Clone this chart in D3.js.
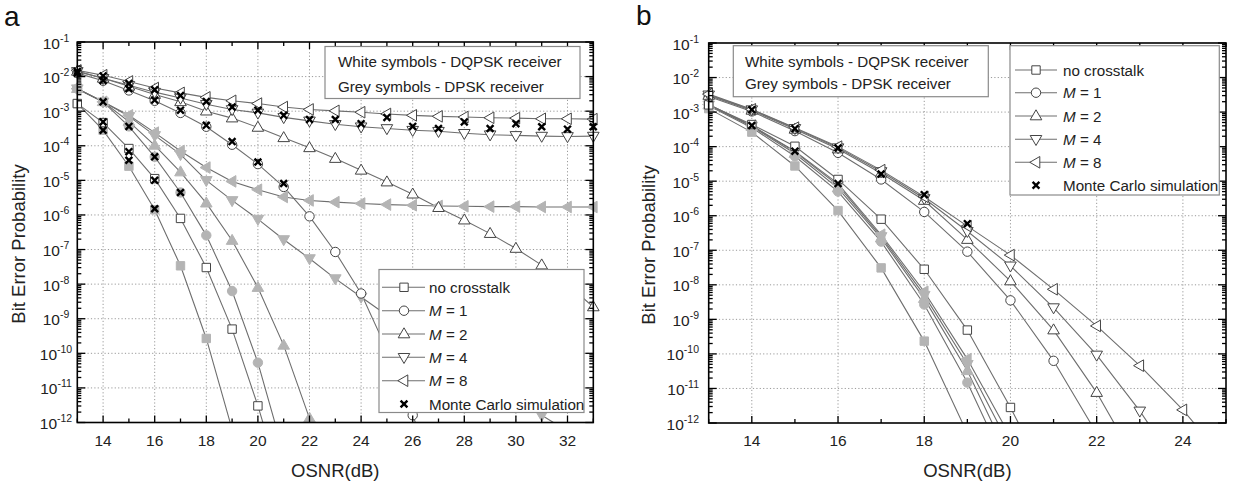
<!DOCTYPE html>
<html><head><meta charset="utf-8">
<script src="https://cdn.jsdelivr.net/npm/d3@7"></script>
<style>
body{margin:0;background:#fff;}
svg{display:block;font-family:"Liberation Sans",Arial,Helvetica,sans-serif;}
</style>
</head><body>
<svg id="c" width="1238" height="484"></svg>
<script>
// ---------------- DATA (values are log10 of bit error probability) ----------------
const osnrA = [13,14,15,16,17,18,19,20,21,22,23,24,25,26,27,28,29,30,31,32,33];
const osnrB = [13,14,15,16,17,18,19,20,21,22,23,24,25];

// Panel a - DQPSK receiver (white symbols)
const a_dqpsk_noXT = [-2.78,-3.33,-4.08,-4.95,-6.10,-7.52,-9.30,-11.52,-14.0];
const a_dqpsk_M1   = [-1.90,-2.12,-2.40,-2.70,-3.05,-3.45,-3.97,-4.53,-5.19,-6.04,-7.07,-8.27,-9.90,-11.79,-13.8];
const a_dqpsk_M2   = [-1.85,-2.05,-2.28,-2.52,-2.73,-3.00,-3.20,-3.47,-3.77,-4.06,-4.37,-4.71,-5.05,-5.40,-5.79,-6.15,-6.54,-6.97,-7.45,-8.00,-8.66];
const a_dqpsk_M4   = [-1.85,-2.05,-2.25,-2.45,-2.62,-2.80,-2.95,-3.05,-3.18,-3.28,-3.38,-3.45,-3.50,-3.55,-3.58,-3.64,-3.68,-3.70,-3.72,-3.73,-3.72];
const a_dqpsk_M8   = [-1.82,-1.96,-2.14,-2.33,-2.47,-2.60,-2.70,-2.78,-2.88,-2.95,-2.99,-3.03,-3.08,-3.12,-3.15,-3.17,-3.19,-3.20,-3.22,-3.22,-3.23];
// Panel a - DPSK receiver (grey symbols)
const a_dpsk_noXT  = [-2.78,-3.55,-4.59,-5.85,-7.47,-9.57,-12.2];
const a_dpsk_M1    = [-2.35,-2.73,-3.44,-4.32,-5.35,-6.59,-8.20,-10.27,-12.9];
const a_dpsk_M2    = [-2.35,-2.73,-3.30,-3.99,-4.76,-5.66,-6.74,-8.10,-9.77,-11.88];
const a_dpsk_M4    = [-2.35,-2.73,-3.15,-3.70,-4.25,-5.00,-5.58,-6.12,-6.71,-7.26,-7.84,-8.37,-8.90,-9.40,-9.90,-10.40,-10.85,-11.30,-11.79,-12.25];
const a_dpsk_M8    = [-2.35,-2.73,-3.12,-3.62,-4.15,-4.63,-5.03,-5.27,-5.48,-5.58,-5.63,-5.67,-5.70,-5.72,-5.74,-5.75,-5.76,-5.76,-5.77,-5.77,-5.77];
// Panel a - Monte Carlo simulation points
const a_mc_upper   = [-1.85,-1.98,-2.20,-2.38,-2.55,-2.72,-2.88,-2.97,-3.12,-3.24,-3.24,-3.36,-3.18,-3.44,-3.50,-3.31,-3.50,-3.36,-3.45,-3.52,-3.45];
const a_mc_M1      = [-1.90,-2.11,-2.35,-2.68,-2.97,-3.41,-3.88,-4.47,-5.09];
const a_mc_dpskM1  = [null,-2.73,-3.44,-4.32,-5.35];
const a_mc_noXT_w  = [null,-3.31,-4.17,-5.00];
const a_mc_noXT_g  = [null,-3.55,-4.42,-5.82];

// Panel b - DQPSK receiver (white symbols)
const b_dqpsk_noXT = [-2.79,-3.36,-3.99,-4.95,-6.10,-7.55,-9.31,-11.55,-14.0];
const b_dqpsk_M1   = [-2.55,-2.98,-3.55,-4.18,-4.95,-5.89,-7.04,-8.45,-10.20,-12.3];
const b_dqpsk_M2   = [-2.52,-2.95,-3.50,-4.07,-4.77,-5.56,-6.69,-7.89,-9.31,-11.12,-13.3];
const b_dqpsk_M4   = [-2.50,-2.93,-3.47,-4.03,-4.72,-5.50,-6.45,-7.45,-8.66,-10.03,-11.65,-13.5];
const b_dqpsk_M8   = [-2.48,-2.92,-3.45,-4.00,-4.68,-5.45,-6.30,-7.14,-8.13,-9.19,-10.34,-11.62,-13.1];
// Panel b - DPSK receiver (grey symbols)
const b_dpsk_noXT  = [-2.90,-3.58,-4.56,-5.85,-7.51,-9.63,-12.3];
const b_dpsk_M1    = [-2.82,-3.45,-4.28,-5.30,-6.75,-8.57,-10.83,-13.5];
const b_dpsk_M2    = [-2.80,-3.42,-4.20,-5.20,-6.65,-8.40,-10.49,-13.1];
const b_dpsk_M4    = [-2.79,-3.40,-4.15,-5.12,-6.60,-8.30,-10.30,-12.7];
const b_dpsk_M8    = [-2.78,-3.39,-4.13,-5.07,-6.55,-8.20,-10.15,-12.4];
// Panel b - Monte Carlo simulation points
const b_mc_upper   = [null,-2.93,-3.48,-4.04,-4.79,-5.39,-6.23];
const b_mc_lower   = [null,-3.39,-4.13,-5.07];

// Axis tick values
const xTicksA = [14,16,18,20,22,24,26,28,30,32];
const xMinorA = [13,15,17,19,21,23,25,27,29,31,33];
const xTicksB = [14,16,18,20,22,24];
const xMinorB = [13,15,17,19,21,23,25];
const yExponents = [-1,-2,-3,-4,-5,-6,-7,-8,-9,-10,-11,-12];
const yMinorMult = [2,3,4,5,6,7,8,9];

const legendNote = ["White symbols - DQPSK receiver", "Grey symbols - DPSK receiver"];
const legendEntries = [
  {shape:"square", label:"no crosstalk"},
  {shape:"circle", M:"1"},
  {shape:"up", M:"2"},
  {shape:"down", M:"4"},
  {shape:"left", M:"8"},
  {shape:"cross", label:"Monte Carlo simulation"}
];

// ---------------- DRAWING ----------------
const SHAPES = {
  square: "M-4.2,-4.2H4.2V4.2H-4.2Z",
  circle: "M4.7,0A4.7,4.7 0 1,1 -4.7,0A4.7,4.7 0 1,1 4.7,0Z",
  up:     "M0,-6.2L5.8,3.8L-5.8,3.8Z",
  down:   "M0,6.2L5.8,-3.8L-5.8,-3.8Z",
  left:   "M-6.2,0L3.8,-5.8L3.8,5.8Z",
  cross:  "M-3.4,-3.4L3.4,3.4M-3.4,3.4L3.4,-3.4"
};
const GREY = "#b4b4b4", LINE = "#6e6e6e", MSTROKE = "#444";

const svg = d3.select("#c");

const panels = [
  {
    id:"a", xs: osnrA, xDomain:[13,33], left:77.3, right:593.3, top:42, bottom:422.5,
    xTicks:xTicksA, xMinor:xMinorA,
    grey:[["square",a_dpsk_noXT],["circle",a_dpsk_M1],["up",a_dpsk_M2],["down",a_dpsk_M4],["left",a_dpsk_M8]],
    white:[["square",a_dqpsk_noXT],["circle",a_dqpsk_M1],["up",a_dqpsk_M2],["down",a_dqpsk_M4],["left",a_dqpsk_M8]],
    mc:[a_mc_upper,a_mc_M1,a_mc_dpskM1,a_mc_noXT_w,a_mc_noXT_g],
    leg1:{x:325,y:46.5,w:255,h:52,tx:338,rows:[67,91.5]},
    leg2:{x:379,y:269.5,w:205,h:143,l0:382,l1:425,mx:404,tx:429,rows:[287.3,310.7,334,357.3,380.7,404]},
    ylab:{x:56,anchor:"middle"}, ytitle:{x:25,y:244}, label:{x:4,y:26}
  },
  {
    id:"b", xs: osnrB, xDomain:[13,25], left:708.7, right:1226, top:43, bottom:423,
    xTicks:xTicksB, xMinor:xMinorB,
    grey:[["square",b_dpsk_noXT],["circle",b_dpsk_M1],["up",b_dpsk_M2],["down",b_dpsk_M4],["left",b_dpsk_M8]],
    white:[["square",b_dqpsk_noXT],["circle",b_dqpsk_M1],["up",b_dqpsk_M2],["down",b_dqpsk_M4],["left",b_dqpsk_M8]],
    mc:[b_mc_upper,b_mc_lower],
    leg1:{x:733.3,y:45.7,w:255,h:51,tx:745,rows:[66.5,89]},
    leg2:{x:1010,y:45.7,w:209.3,h:149.3,l0:1015,l1:1057,mx:1036,tx:1063,rows:[70,92.7,116,139.3,162.3,185.3]},
    ylab:{x:699,anchor:"end"}, ytitle:{x:655,y:245}, label:{x:636,y:25}
  }
];

panels.forEach(p => {
  const g = svg.append("g");
  const x = d3.scaleLinear().domain(p.xDomain).range([p.left, p.right]);
  const y = d3.scaleLog().domain([1e-12, 1e-1]).range([p.bottom, p.top]);
  const clipId = "clip-" + p.id;
  svg.append("defs").append("clipPath").attr("id", clipId)
    .append("rect").attr("x", p.left).attr("y", p.top)
    .attr("width", p.right - p.left).attr("height", p.bottom - p.top);

  // grid
  const grid = g.append("g").attr("stroke", "#9a9a9a").attr("stroke-width", 1).attr("stroke-dasharray", "1.2,2.2");
  grid.selectAll("line.gx").data(p.xTicks).join("line")
    .attr("x1", d => x(d)).attr("x2", d => x(d)).attr("y1", p.top).attr("y2", p.bottom);
  grid.selectAll("line.gy").data(yExponents.filter(e => e < -1 && e > -12)).join("line")
    .attr("y1", e => y(Math.pow(10, e))).attr("y2", e => y(Math.pow(10, e)))
    .attr("x1", p.left).attr("x2", p.right);

  // series
  const line = d3.line().defined(d => d[1] != null)
    .x(d => x(d[0])).y(d => y(Math.pow(10, d[1])));
  const toPts = vals => vals.map((v, i) => [p.xs[i], v]);

  const drawSeries = (list, isGrey) => {
    list.forEach(([shape, vals]) => {
      g.append("path").attr("clip-path", `url(#${clipId})`)
        .attr("d", line(toPts(vals))).attr("fill", "none")
        .attr("stroke", LINE).attr("stroke-width", 1.1);
    });
  };
  const drawMarkers = (list, isGrey) => {
    list.forEach(([shape, vals]) => {
      g.selectAll(null).data(toPts(vals).filter(d => d[1] != null && d[1] >= -12.08)).join("path")
        .attr("transform", d => `translate(${x(d[0])},${y(Math.pow(10, d[1]))})`)
        .attr("d", SHAPES[shape])
        .attr("fill", isGrey ? GREY : "#fff")
        .attr("stroke", isGrey ? GREY : MSTROKE)
        .attr("stroke-width", 1);
    });
  };
  drawSeries(p.grey, true);
  drawSeries(p.white, false);
  drawMarkers(p.grey, true);
  drawMarkers(p.white, false);
  p.mc.forEach(vals => {
    g.selectAll(null).data(toPts(vals).filter(d => d[1] != null)).join("path")
      .attr("transform", d => `translate(${x(d[0])},${y(Math.pow(10, d[1]))})`)
      .attr("d", SHAPES.cross).attr("fill", "none")
      .attr("stroke", "#000").attr("stroke-width", 2.4);
  });

  // frame
  g.append("rect").attr("x", p.left).attr("y", p.top)
    .attr("width", p.right - p.left).attr("height", p.bottom - p.top)
    .attr("fill", "none").attr("stroke", "#000").attr("stroke-width", 1.6);

  // ticks (inward on all four sides)
  const tk = g.append("g").attr("stroke", "#000").attr("stroke-width", 1.3);
  const xt = (vals, len) => {
    tk.selectAll(null).data(vals).join("line")
      .attr("x1", d => x(d)).attr("x2", d => x(d)).attr("y1", p.bottom).attr("y2", p.bottom - len);
    tk.selectAll(null).data(vals).join("line")
      .attr("x1", d => x(d)).attr("x2", d => x(d)).attr("y1", p.top).attr("y2", p.top + len);
  };
  xt(p.xTicks, 7); xt(p.xMinor, 4);
  const yMaj = yExponents.map(e => Math.pow(10, e));
  const yMin = [];
  yExponents.filter(e => e <= -2).forEach(e => yMinorMult.forEach(m => yMin.push(m * Math.pow(10, e))));
  const yt = (vals, len) => {
    tk.selectAll(null).data(vals).join("line")
      .attr("y1", d => y(d)).attr("y2", d => y(d)).attr("x1", p.left).attr("x2", p.left + len);
    tk.selectAll(null).data(vals).join("line")
      .attr("y1", d => y(d)).attr("y2", d => y(d)).attr("x1", p.right).attr("x2", p.right - len);
  };
  yt(yMaj, 8); yt(yMin, 4);

  // tick labels
  g.selectAll(null).data(p.xTicks).join("text")
    .attr("x", d => x(d)).attr("y", p.bottom + 23).attr("text-anchor", "middle")
    .attr("font-size", 15.5).attr("fill", "#222").text(d => d);
  const yl = g.selectAll(null).data(yExponents).join("text")
    .attr("x", p.ylab.x).attr("y", e => y(Math.pow(10, e)) + 6.5)
    .attr("text-anchor", p.ylab.anchor).attr("font-size", 15.5).attr("fill", "#222");
  yl.append("tspan").text("10");
  yl.append("tspan").attr("dy", -7).attr("font-size", 10.5).text(e => String(e));

  // axis titles
  g.append("text").attr("x", (p.left + p.right) / 2).attr("y", 477).attr("text-anchor", "middle")
    .attr("font-size", 18.5).attr("fill", "#222").text("OSNR(dB)");
  g.append("text").attr("transform", `translate(${p.ytitle.x},${p.ytitle.y}) rotate(-90)`)
    .attr("text-anchor", "middle").attr("font-size", 18.5).attr("fill", "#222").text("Bit Error Probability");
  svg.append("text").attr("x", p.label.x).attr("y", p.label.y).attr("font-size", 28)
    .attr("fill", "#111").text(p.id);

  // legend 1 (note)
  const L1 = p.leg1;
  g.append("rect").attr("x", L1.x).attr("y", L1.y).attr("width", L1.w).attr("height", L1.h)
    .attr("fill", "#fff").attr("stroke", "#8a8a8a").attr("stroke-width", 1.2);
  g.selectAll(null).data(legendNote).join("text")
    .attr("x", L1.tx).attr("y", (d, i) => L1.rows[i]).attr("font-size", 15.2).attr("fill", "#222")
    .style("white-space", "pre").text(d => d);

  // legend 2 (symbols)
  const L2 = p.leg2;
  g.append("rect").attr("x", L2.x).attr("y", L2.y).attr("width", L2.w).attr("height", L2.h)
    .attr("fill", "#fff").attr("stroke", "#8a8a8a").attr("stroke-width", 1.2);
  legendEntries.forEach((en, i) => {
    const cy = L2.rows[i];
    if (en.shape !== "cross") {
      g.append("line").attr("x1", L2.l0).attr("x2", L2.l1).attr("y1", cy).attr("y2", cy)
        .attr("stroke", LINE).attr("stroke-width", 1.1);
      g.append("path").attr("transform", `translate(${L2.mx},${cy})`).attr("d", SHAPES[en.shape])
        .attr("fill", "#fff").attr("stroke", MSTROKE).attr("stroke-width", 1);
    } else {
      g.append("path").attr("transform", `translate(${L2.mx},${cy})`).attr("d", SHAPES.cross)
        .attr("fill", "none").attr("stroke", "#000").attr("stroke-width", 2.4);
    }
    const t = g.append("text").attr("x", L2.tx).attr("y", cy + 5.5).attr("font-size", 15.2).attr("fill", "#222");
    if (en.M) {
      t.append("tspan").attr("font-style", "italic").text("M");
      t.append("tspan").text(" = " + en.M);
    } else t.text(en.label);
  });
});
</script>
</body></html>
